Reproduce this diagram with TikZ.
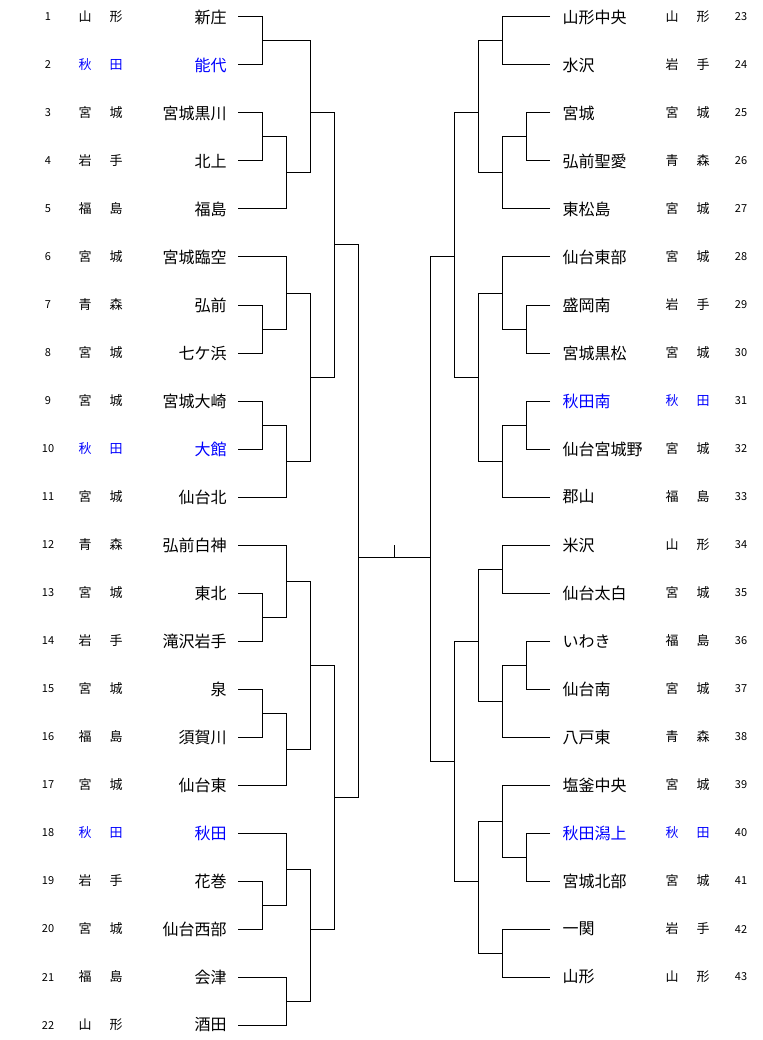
\documentclass[tikz,border=0pt]{standalone}
\usepackage{fontspec}
\setmainfont{Noto Sans CJK JP}
\begin{document}
\begin{tikzpicture}[x=1pt,y=-1pt,line width=1pt,
  num/.style={font=\fontsize{11}{11}\selectfont,inner sep=0pt},
  pref/.style={font=\fontsize{13}{13}\selectfont,inner sep=0pt},
  team/.style={font=\fontsize{16}{16}\selectfont,inner sep=0pt},
  br/.style={draw=black,line width=1pt}]
\fill[white] (0,0) rectangle (762,1040);
\useasboundingbox (0,0) rectangle (762,1040);
% left teams
\foreach \i/\pa/\pb/\t/\c in {1/山/形/新庄/black,2/秋/田/能代/blue,3/宮/城/宮城黒川/black,4/岩/手/北上/black,5/福/島/福島/black,6/宮/城/宮城臨空/black,7/青/森/弘前/black,8/宮/城/七ケ浜/black,9/宮/城/宮城大崎/black,10/秋/田/大館/blue,11/宮/城/仙台北/black,12/青/森/弘前白神/black,13/宮/城/東北/black,14/岩/手/滝沢岩手/black,15/宮/城/泉/black,16/福/島/須賀川/black,17/宮/城/仙台東/black,18/秋/田/秋田/blue,19/岩/手/花巻/black,20/宮/城/仙台西部/black,21/福/島/会津/black,22/山/形/酒田/black}{
  \pgfmathsetmacro\yy{17+48*(\i-1)}
  \node[num] (n\i) at (48,\yy) {\i};
  \node[pref,text=\c] (pa\i) at (85,\yy) {\pa};
  \node[pref,text=\c] (pb\i) at (116,\yy) {\pb};
  \node[team,text=\c,anchor=east] (t\i) at (227,\yy) {\t};
  \coordinate (L\i) at (238,\yy);
}
% right teams
\foreach \i/\pa/\pb/\t/\c in {23/山/形/山形中央/black,24/岩/手/水沢/black,25/宮/城/宮城/black,26/青/森/弘前聖愛/black,27/宮/城/東松島/black,28/宮/城/仙台東部/black,29/岩/手/盛岡南/black,30/宮/城/宮城黒松/black,31/秋/田/秋田南/blue,32/宮/城/仙台宮城野/black,33/福/島/郡山/black,34/山/形/米沢/black,35/宮/城/仙台太白/black,36/福/島/いわき/black,37/宮/城/仙台南/black,38/青/森/八戸東/black,39/宮/城/塩釜中央/black,40/秋/田/秋田潟上/blue,41/宮/城/宮城北部/black,42/岩/手/一関/black,43/山/形/山形/black}{
  \pgfmathsetmacro\yy{17+48*(\i-23)}
  \node[num] (n\i) at (741,\yy) {\i};
  \node[pref,text=\c] (pa\i) at (672,\yy) {\pa};
  \node[pref,text=\c] (pb\i) at (703,\yy) {\pb};
  \node[team,text=\c,anchor=west] (t\i) at (562,\yy) {\t};
  \coordinate (R\i) at (550,\yy);
}
% left bracket: \draw from (y1) to (y2) at x, joined at out y
\newcommand\lb[5]{\draw[br] (#1,#2) -- (#4,#2) -- (#4,#3) -- (#1,#3); \draw[br] (#4,#5) -- (#4+24,#5);}
\newcommand\rb[5]{\draw[br] (#1,#2) -- (#4,#2) -- (#4,#3) -- (#1,#3); \draw[br] (#4,#5) -- (#4-24,#5);}
% left
\lb{238}{17}{65}{262}{41}
\lb{238}{113}{161}{262}{137}
\lb{262}{137}{209}{286}{173}
\draw[br] (238,209) -- (262,209);
\lb{286}{41}{173}{310}{113}
\draw[br] (262,41) -- (286,41);
\lb{238}{305}{353}{262}{329}
\lb{262}{257}{329}{286}{293}
\draw[br] (238,257) -- (262,257);
\lb{238}{401}{449}{262}{425}
\lb{262}{425}{497}{286}{461}
\draw[br] (238,497) -- (262,497);
\lb{286}{293}{461}{310}{377}
\lb{310}{113}{377}{334}{245}
\lb{238}{593}{641}{262}{617}
\lb{262}{545}{617}{286}{581}
\draw[br] (238,545) -- (262,545);
\lb{238}{689}{737}{262}{713}
\lb{262}{713}{785}{286}{749}
\draw[br] (238,785) -- (262,785);
\lb{286}{581}{749}{310}{665}
\lb{238}{881}{929}{262}{905}
\lb{262}{833}{905}{286}{869}
\draw[br] (238,833) -- (262,833);
\lb{262}{977}{1025}{286}{1001}
\draw[br] (238,977) -- (262,977) (238,1025) -- (262,1025);
\lb{286}{869}{1001}{310}{929}
\lb{310}{665}{929}{334}{797}
\draw[br] (334,245) -- (358,245) -- (358,797) -- (334,797);
% right
\rb{550}{17}{65}{502}{41}
\rb{550}{113}{161}{526}{137}
\rb{526}{137}{209}{502}{173}
\draw[br] (550,209) -- (526,209);
\rb{502}{41}{173}{478}{113}
\rb{550}{305}{353}{526}{329}
\rb{526}{257}{329}{502}{293}
\draw[br] (550,257) -- (526,257);
\rb{550}{401}{449}{526}{425}
\rb{526}{425}{497}{502}{461}
\draw[br] (550,497) -- (526,497);
\rb{502}{293}{461}{478}{377}
\rb{478}{113}{377}{454}{257}
\rb{550}{545}{593}{502}{569}
\rb{550}{641}{689}{526}{665}
\rb{526}{665}{737}{502}{701}
\draw[br] (550,737) -- (526,737);
\rb{502}{569}{701}{478}{641}
\rb{550}{833}{881}{526}{857}
\rb{526}{785}{857}{502}{821}
\draw[br] (550,785) -- (526,785);
\rb{550}{929}{977}{502}{953}
\rb{502}{821}{953}{478}{881}
\rb{478}{641}{881}{454}{761}
\draw[br] (430,257) -- (430,761);
\coordinate (cl) at (358,557);
\coordinate (cr) at (430,557);
\coordinate (ct) at (394,545);
\coordinate (cm) at (394,557);
\draw[br] (cl) -- (cr);
\draw[br] (ct) -- (cm);
\end{tikzpicture}
\end{document}
